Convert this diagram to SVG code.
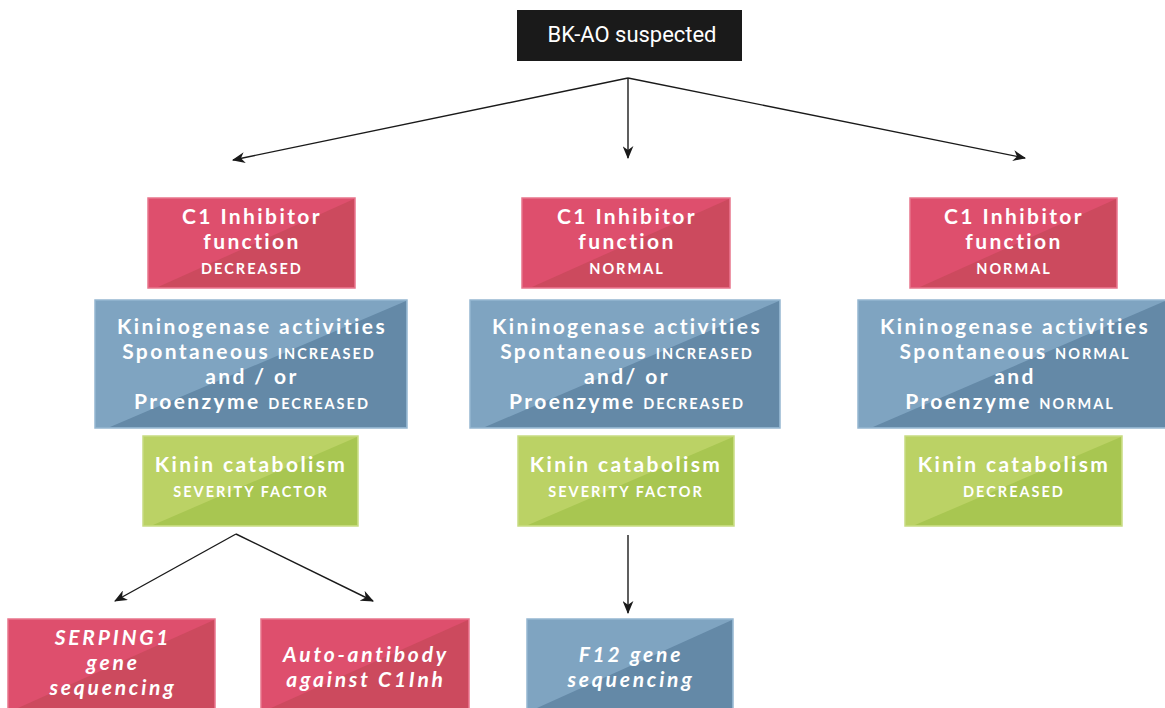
<svg xmlns="http://www.w3.org/2000/svg" width="1165" height="708" viewBox="0 0 1165 708">
<style>
.t{font-family:Lato,"Open Sans","Liberation Sans",sans-serif;font-weight:700;fill:#fff;text-anchor:middle;letter-spacing:2.4px}
.big{font-size:21px}
.sm{font-size:14.5px;letter-spacing:2px}
.it{font-style:italic;letter-spacing:2.8px}
.red{fill:#de4f6d;stroke:#e7758c;stroke-width:1.5}
.redd{fill:#cc4a5e}
.blue{fill:#7fa4c1;stroke:#95b7d1;stroke-width:1.5}
.blued{fill:#6489a7}
.green{fill:#bbd265;stroke:#c8dc83;stroke-width:1.5}
.greend{fill:#a8c651}
.con{stroke:#1a1a1a;stroke-width:1.4;fill:none;marker-end:url(#arr)}
</style>
<defs>
<marker id="arr" viewBox="0 0 12 10" refX="11" refY="5" markerWidth="13" markerHeight="11" markerUnits="userSpaceOnUse" orient="auto">
<path d="M0,0 L12,5 L0,10 L3.5,5 z" fill="#1a1a1a"/>
</marker>
</defs>
<rect width="1165" height="708" fill="#ffffff"/>

<g id="connectors">
<line class="con" x1="628" y1="78" x2="233" y2="160"/>
<line class="con" x1="628" y1="78" x2="628" y2="158"/>
<line class="con" x1="628" y1="78" x2="1025" y2="158"/>
<line class="con" x1="236" y1="534" x2="115" y2="601"/>
<line class="con" x1="236" y1="534" x2="373" y2="601"/>
<line class="con" x1="628" y1="535" x2="628" y2="613"/>
</g>

<g id="bkao">
<rect x="517" y="10" width="225" height="51" fill="#1a1a1a"/>
<text x="632" y="42" font-family="Roboto,'Liberation Sans',sans-serif" font-size="22" fill="#fff" text-anchor="middle" textLength="169" lengthAdjust="spacingAndGlyphs">BK-AO suspected</text>
</g>

<!-- Column 1 -->
<g id="c1inh1">
<rect class="red" x="148" y="198" width="207" height="90"/>
<polygon class="redd" points="158,287 354,199 354,287"/>
<text class="t big" x="252" y="224">C1 Inhibitor</text>
<text class="t big" x="252" y="249">function</text>
<text class="t sm" x="252" y="274">DECREASED</text>
</g>
<g id="kin1">
<rect class="blue" x="95" y="300" width="312" height="128"/>
<polygon class="blued" points="110,427 406,301 406,427"/>
<text class="t big" x="252" y="334">Kininogenase activities</text>
<text class="t big" x="249" y="359">Spontaneous <tspan class="sm">INCREASED</tspan></text>
<text class="t big" x="252" y="384">and / or</text>
<text class="t big" x="252" y="409">Proenzyme <tspan class="sm">DECREASED</tspan></text>
</g>
<g id="cat1">
<rect class="green" x="143" y="436" width="215" height="90"/>
<polygon class="greend" points="153,525 357,437 357,525"/>
<text class="t big" x="251" y="472">Kinin catabolism</text>
<text class="t sm" x="251" y="497">SEVERITY FACTOR</text>
</g>

<!-- Column 2 -->
<g id="c1inh2">
<rect class="red" x="522" y="198" width="208" height="90"/>
<polygon class="redd" points="532,287 729,199 729,287"/>
<text class="t big" x="627" y="224">C1 Inhibitor</text>
<text class="t big" x="627" y="249">function</text>
<text class="t sm" x="627" y="274">NORMAL</text>
</g>
<g id="kin2">
<rect class="blue" x="470" y="300" width="310" height="128"/>
<polygon class="blued" points="485,427 779,301 779,427"/>
<text class="t big" x="627" y="334">Kininogenase activities</text>
<text class="t big" x="627" y="359">Spontaneous <tspan class="sm">INCREASED</tspan></text>
<text class="t big" x="627" y="384">and/ or</text>
<text class="t big" x="627" y="409">Proenzyme <tspan class="sm">DECREASED</tspan></text>
</g>
<g id="cat2">
<rect class="green" x="518" y="436" width="216" height="90"/>
<polygon class="greend" points="528,525 733,437 733,525"/>
<text class="t big" x="626" y="472">Kinin catabolism</text>
<text class="t sm" x="626" y="497">SEVERITY FACTOR</text>
</g>

<!-- Column 3 -->
<g id="c1inh3">
<rect class="red" x="910" y="198" width="207" height="90"/>
<polygon class="redd" points="920,287 1116,199 1116,287"/>
<text class="t big" x="1014" y="224">C1 Inhibitor</text>
<text class="t big" x="1014" y="249">function</text>
<text class="t sm" x="1014" y="274">NORMAL</text>
</g>
<g id="kin3">
<rect class="blue" x="858" y="300" width="307" height="128"/>
<polygon class="blued" points="873,427 1165,301 1165,427"/>
<text class="t big" x="1015" y="334">Kininogenase activities</text>
<text class="t big" x="1015" y="359">Spontaneous <tspan class="sm">NORMAL</tspan></text>
<text class="t big" x="1015" y="384">and</text>
<text class="t big" x="1010" y="409">Proenzyme <tspan class="sm">NORMAL</tspan></text>
</g>
<g id="cat3">
<rect class="green" x="905" y="436" width="217" height="90"/>
<polygon class="greend" points="915,525 1121,437 1121,525"/>
<text class="t big" x="1014" y="472">Kinin catabolism</text>
<text class="t sm" x="1014" y="497">DECREASED</text>
</g>

<!-- Bottom -->
<g id="serping">
<rect class="red" x="8" y="619" width="207" height="90"/>
<polygon class="redd" points="18,708 214,620 214,708"/>
<text class="t big it" x="113" y="645">SERPING1</text>
<text class="t big it" x="113" y="670">gene</text>
<text class="t big it" x="113" y="695">sequencing</text>
</g>
<g id="autoab">
<rect class="red" x="261" y="619" width="208" height="90"/>
<polygon class="redd" points="271,708 468,620 468,708"/>
<text class="t big it" x="366" y="662">Auto-antibody</text>
<text class="t big it" x="366" y="687">against C1Inh</text>
</g>
<g id="f12">
<rect class="blue" x="527" y="619" width="206" height="90"/>
<polygon class="blued" points="537,708 732,620 732,708"/>
<text class="t big it" x="631" y="662">F12 gene</text>
<text class="t big it" x="631" y="687">sequencing</text>
</g>
</svg>
